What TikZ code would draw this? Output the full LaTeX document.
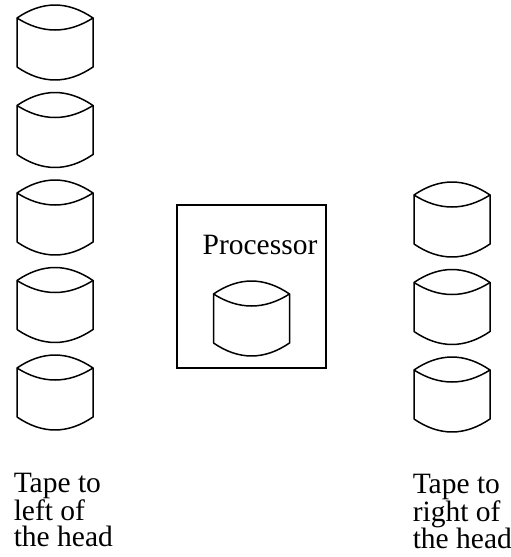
\documentclass[tikz,border=0pt]{standalone}
\usepackage{fontspec}
\setmainfont{Liberation Serif}
\usetikzlibrary{positioning}

\begin{document}
\begin{tikzpicture}[x=1pt, y=-1pt, line width=1.5pt,
  tape/.pic={
    \draw (-38,62) -- (-38,13) .. controls (-12.7,-4.3) and (12.7,-4.3) .. (38,13)
          -- (38,62) .. controls (12.7,79.3) and (-12.7,79.3) .. (-38,62);
    \draw (-38,13) .. controls (-12.7,29) and (12.7,29) .. (38,13);
  },
  lbl/.style={font=\fontsize{29.5}{26.5}\selectfont, inner sep=0pt, align=left}]
  \useasboundingbox (0,0) rectangle (511,557);

  % cells of the tape left of the head
  \foreach \i in {0,...,4}
    \pic (left\i) at (55,5+87.5*\i) {tape};
  % cells of the tape right of the head
  \foreach \i in {0,1,2}
    \pic (right\i) at (452,182+87.5*\i) {tape};

  % processor, holding the cell under the head
  \node[draw, minimum width=149pt, minimum height=163pt, inner sep=0pt] (proc) at (251.5,286.5) {};
  \node[lbl, anchor=base] (proclbl) at (260,254) {Processor};
  \pic (head) at (251.5,281) {tape};

  \node[lbl, anchor=north west] (leftlbl) at (13,472) {Tape to\\left of\\the head};
  \node[lbl, anchor=north west] (rightlbl) at (412,473) {Tape to\\right of\\the head};
\end{tikzpicture}
\end{document}
